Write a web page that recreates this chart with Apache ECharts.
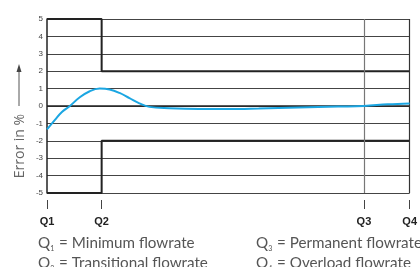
<!DOCTYPE html>
<html>
<head>
<meta charset="utf-8">
<script src="https://cdn.jsdelivr.net/npm/echarts@6/dist/echarts.min.js"></script>
<style>
  html, body { margin: 0; padding: 0; background: #fff; }
  #chart { width: 420px; height: 267px; }
</style>
</head>
<body>
<div id="chart"></div>
<script>
// flow positions along the x axis (arbitrary units, Q1 = 0)
var qPositions = [0, 55, 319, 365];
var qLabels = ['Q1', 'Q2', 'Q3', 'Q4'];

// error curve (x, error %)
var curveX = [0, 8, 15, 23, 33, 43, 53, 63, 73, 83, 93, 103, 123, 153, 183, 213, 253, 293, 319, 343, 365];
var curveY = [-1.35, -0.8, -0.35, 0, 0.5, 0.85, 1.0, 0.95, 0.75, 0.45, 0.15, -0.05, -0.13, -0.17, -0.17, -0.14, -0.08, -0.03, 0, 0.1, 0.15];

// maximum permissible error limits
var upperX = [0, 55, 55, 365];
var upperY = [5, 5, 2, 2];
var lowerX = [0, 55, 55, 365];
var lowerY = [-5, -5, -2, -2];

var zip = function (xs, ys) { return xs.map(function (x, i) { return [x, ys[i]]; }); };

var chartDom = document.getElementById('chart');
var myChart = echarts.init(chartDom);
var option;

var legendRich = {
  q: { font: '15.2px Lato', fill: '#555', lineHeight: 20 },
  s: { font: '7px Lato', fill: '#555', padding: [10, 1, 0, 0], lineHeight: 20 }
};

option = {
  animation: false,
  grid: { left: 47, right: 8, top: 19, bottom: 74 },
  xAxis: {
    type: 'value',
    min: 0,
    max: 365,
    offset: 7,
    axisLine: { show: false, onZero: false },
    splitLine: { show: false },
    axisTick: {
      show: true,
      customValues: qPositions,
      length: 9,
      lineStyle: { color: '#444', width: 1 }
    },
    axisLabel: {
      customValues: qPositions,
      formatter: function (v) { return qLabels[qPositions.indexOf(v)] || ''; },
      fontFamily: 'Liberation Sans',
      fontWeight: 'bold',
      fontSize: 11,
      color: '#222',
      margin: 16
    }
  },
  yAxis: {
    type: 'value',
    min: -5,
    max: 5,
    interval: 1,
    axisLine: { show: true, lineStyle: { color: '#222', width: 1.5 } },
    axisTick: { show: false },
    axisLabel: { fontFamily: 'Liberation Sans', fontSize: 8, color: '#444', margin: 4 },
    splitLine: { show: true, lineStyle: { color: '#444', width: 1 } }
  },
  series: [
    {
      type: 'line',
      data: zip(upperX, upperY),
      symbol: 'none',
      lineStyle: { color: '#222', width: 2 },
      z: 4,
      markLine: {
        silent: true,
        symbol: 'none',
        label: { show: false },
        data: [
          { yAxis: 0, lineStyle: { color: '#222', width: 1.6, type: 'solid' } },
          { xAxis: qPositions[2], lineStyle: { color: '#777', width: 1.2, type: 'solid' } },
          { xAxis: qPositions[3], lineStyle: { color: '#333', width: 1.2, type: 'solid' } }
        ]
      }
    },
    {
      type: 'line',
      data: zip(lowerX, lowerY),
      symbol: 'none',
      lineStyle: { color: '#222', width: 2 },
      z: 4
    },
    {
      type: 'line',
      data: zip(curveX, curveY),
      symbol: 'none',
      smooth: 0.4,
      lineStyle: { color: '#1ba6e2', width: 2 },
      z: 5
    }
  ],
  graphic: [
    {
      type: 'text',
      x: 20, y: 146,
      rotation: Math.PI / 2,
      style: {
        text: 'Error in %',
        font: '14px "Open Sans"',
        fill: '#666',
        align: 'center',
        verticalAlign: 'middle'
      }
    },
    {
      type: 'line',
      shape: { x1: 19, y1: 106, x2: 19, y2: 70 },
      style: { stroke: '#555', lineWidth: 1 }
    },
    {
      type: 'polygon',
      shape: { points: [[19, 64], [16.5, 72], [21.5, 72]] },
      style: { fill: '#444' }
    },
    {
      type: 'text',
      left: 38, top: 235,
      style: {
        text: '{q|Q}{s|1}{q| = Minimum flowrate}\n{q|Q}{s|2}{q| = Transitional flowrate}',
        rich: legendRich
      }
    },
    {
      type: 'text',
      left: 256, top: 235,
      style: {
        text: '{q|Q}{s|3}{q| = Permanent flowrate}\n{q|Q}{s|4}{q| = Overload flowrate}',
        rich: legendRich
      }
    }
  ]
};

option && myChart.setOption(option);
</script>
</body>
</html>
